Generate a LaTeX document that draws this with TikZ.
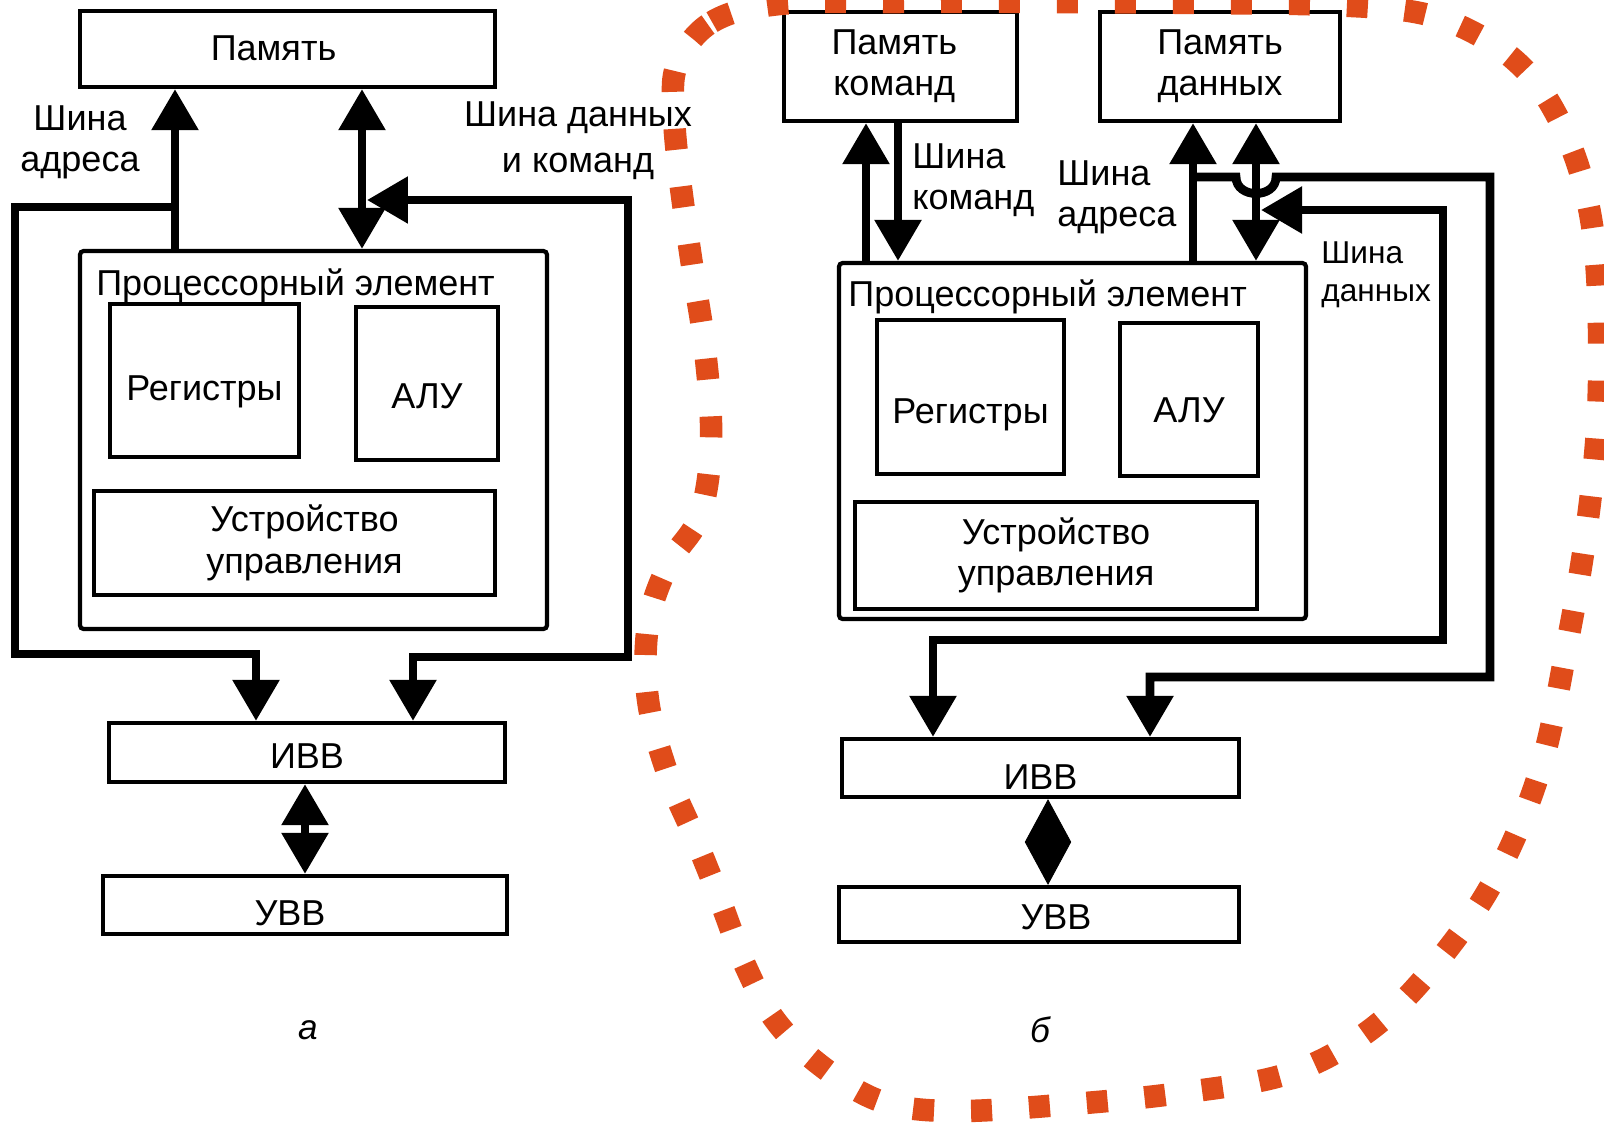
\documentclass[tikz,border=0pt]{standalone}
\usepackage{fontspec}
\setmainfont{Liberation Sans}
\usetikzlibrary{arrows.meta}

\definecolor{hilite}{HTML}{E04C1A}

\begin{document}
\begin{tikzpicture}[x=0.02cm, y=-0.02cm,
  >={Triangle[length=0.82cm,width=0.9cm]},
  every node/.style={font=\fontsize{20.5}{23.5}\selectfont},
  box/.style={draw, line width=2.4pt, inner sep=0pt, align=center},
  pebox/.style={draw, line width=2.4pt, inner sep=0pt, rounded corners=2pt},
  lowered/.style={text depth=0pt, text height=#1},
  bus/.style={line width=5pt},
  lbl/.style={inner sep=0pt},
  small/.style={font=\fontsize{18}{21.5}\selectfont},
  caption/.style={font=\fontsize{20}{24}\selectfont\itshape}
]
\fill[white] (0,0) rectangle (1604,1123);
\useasboundingbox (0,0) rectangle (1604,1123);

% ---------------- (а) common memory ----------------
\node[box, lowered=13.5pt, minimum width=8.3cm, minimum height=1.52cm] (mem1) at (287.5,49) {\kern-0.56cm Память};
\node[pebox, minimum width=9.34cm, minimum height=7.56cm] (pe1) at (313.5,440) {};
\node[lbl, anchor=west] (pel1) at (96,286) {Процессорный элемент};
\node[box, lowered=23pt, minimum width=3.78cm, minimum height=3.06cm] (reg1) at (204.5,380.5) {Регистры};
\node[box, lowered=29pt, minimum width=2.84cm, minimum height=3.06cm] (alu1) at (427,383.5) {АЛУ};
\node[box, minimum width=8.02cm, minimum height=2.08cm] (cu1) at (294.5,543) {\kern0.4cm Устройство\\\kern0.4cm управления};
\node[box, lowered=18.7pt, minimum width=7.92cm, minimum height=1.18cm] (ivv1) at (307,752.5) {ИВВ};
\node[box, lowered=23.5pt, minimum width=8.08cm, minimum height=1.16cm] (uvv1) at (305,905) {\kern-0.6cm УВВ};

\node[lbl, align=center] (ta1) at (80,142) {Шина\\адреса};
\node[lbl, align=center, font=\fontsize{20.5}{26}\selectfont] (td1) at (578,141) {Шина данных\\и команд};
\node[caption] (cap1) at (308,1030) {а};

\coordinate (ax1) at (175,207);
\coordinate (lc1) at (256,654);
\coordinate (dx1) at (362,0);
\coordinate (dj1) at (367,200);
\coordinate (rc1) at (413,657);
\coordinate (io1) at (305,0);

% address bus
\draw[bus,->] (pe1.north -| ax1) -- (mem1.south -| ax1);
\draw[bus,->] (ax1) -- (15,207) -- (15,654) -- (lc1) -- (ivv1.north -| lc1);
% data and instruction bus
\draw[bus,<->] (pe1.north -| dx1) -- (mem1.south -| dx1);
\draw[bus,<->] (dj1) -- (628,200) -- (628,657) -- (rc1) -- (ivv1.north -| rc1);
% I/O link
\draw[bus,<->] (ivv1.south -| io1) -- (uvv1.north -| io1);

% ---------------- (б) separate memories ----------------
\node[box, minimum width=4.66cm, minimum height=2.18cm] (memc) at (900.5,66.5) {\kern-0.25cm Память\\\kern-0.25cm команд};
\node[box, minimum width=4.8cm, minimum height=2.18cm] (memd) at (1220,66.5) {Память\\данных};
\node[pebox, minimum width=9.34cm, minimum height=7.12cm] (pe2) at (1072.5,441) {};
\node[lbl, anchor=west] (pel2) at (848,297) {Процессорный элемент};
\node[box, lowered=30pt, minimum width=3.74cm, minimum height=3.08cm] (reg2) at (970.5,397) {Регистры};
\node[box, lowered=26pt, minimum width=2.76cm, minimum height=3.06cm] (alu2) at (1189,399.5) {АЛУ};
\node[box, minimum width=8.04cm, minimum height=2.14cm] (cu2) at (1056,555.5) {Устройство\\управления};
\node[box, lowered=25pt, minimum width=7.94cm, minimum height=1.16cm] (ivv2) at (1040.5,768) {ИВВ};
\node[box, lowered=17.5pt, minimum width=8.0cm, minimum height=1.1cm] (uvv2) at (1039,914.5) {\kern0.68cm УВВ};

\node[lbl, anchor=west, align=left] (tc2) at (912,180) {Шина\\команд};
\node[lbl, anchor=west, align=left] (ta2) at (1057,197) {Шина\\адреса};
\node[lbl, small, anchor=west, align=left] (td2) at (1321,275) {Шина\\данных};
\node[caption] (cap2) at (1040,1030) {б};

\coordinate (cx1) at (866,0);
\coordinate (cx2) at (898,0);
\coordinate (ax2) at (1193,177);
\coordinate (dx2) at (1256,0);
\coordinate (dj2) at (1261,210);
\coordinate (lc2) at (933,640);
\coordinate (rc2) at (1150,677);
\coordinate (io2) at (1048,0);

% instruction bus
\draw[bus,->] (pe2.north -| cx1) -- (memc.south -| cx1);
\draw[bus,->] (memc.south -| cx2) -- (pe2.north -| cx2);
% address bus with a hop over the data bus
\draw[bus,->] (pe2.north -| ax2) -- (memd.south -| ax2);
\draw[bus,->] (ax2) -- (1236,177) .. controls (1236,199) and (1276,199) .. (1276,177)
  -- (1490,177) -- (1490,677) -- (rc2) -- (ivv2.north -| rc2);
% data bus
\draw[bus,<->] (pe2.north -| dx2) -- (memd.south -| dx2);
\draw[bus,<->] (dj2) -- (1443,210) -- (1443,640) -- (lc2) -- (ivv2.north -| lc2);
% I/O link
\draw[line width=0.5pt, {Triangle[length=0.855cm,width=0.92cm]}-{Triangle[length=0.855cm,width=0.92cm]}]
  (ivv2.south -| io2) -- (uvv2.north -| io2);

% dotted outline around variant (б)
\draw[hilite, line width=0.45cm, dash pattern=on 0.42cm off 0.74cm]
  plot[smooth cycle, tension=0.6] coordinates {
    (677,65) (712,22) (780,4) (900,2) (1050,2) (1200,3) (1330,5) (1420,13)
    (1480,36) (1525,70) (1556,114) (1580,172) (1594,240) (1599,330)
    (1597,430) (1585,540) (1566,650) (1540,770) (1495,878) (1435,965)
    (1370,1030) (1290,1073) (1180,1093) (1060,1105) (950,1111) (880,1101)
    (820,1065) (775,1020) (745,965) (720,900) (695,838) (668,775)
    (648,700) (648,625) (668,565) (700,515) (711,440) (705,350) (692,265)
    (680,180) (674,115)};
\end{tikzpicture}
\end{document}
